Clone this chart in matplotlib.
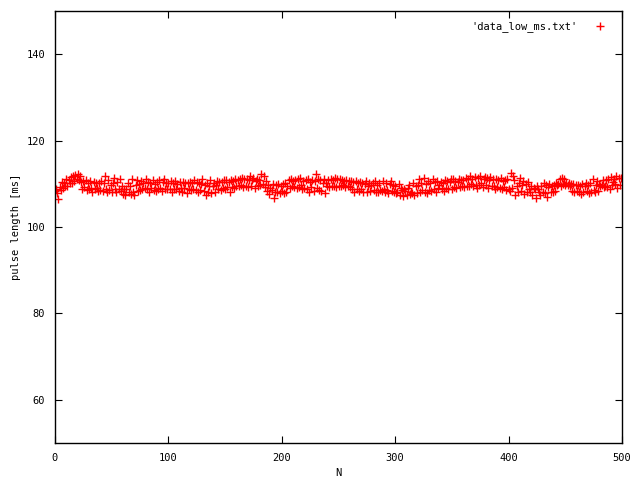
import matplotlib
matplotlib.use("Agg")
import matplotlib.pyplot as plt
import numpy as np

# pulse lengths, 20 samples per row
pulse_ms = [
    108.3, 108.9, 107.9, 106.4, 109.3, 108.6, 110.4, 109.1, 110.2, 109.4, 111.0, 109.5, 110.9, 110.2, 111.6, 110.3, 111.9, 110.7, 112.1, 111.0,
    112.3, 110.8, 111.9, 110.4, 108.9, 110.6, 109.2, 110.8, 108.5, 110.3, 108.9, 110.7, 109.0, 108.2, 110.5, 108.7, 110.2, 109.1, 108.4, 110.1,
    108.6, 110.6, 108.4, 110.1, 111.9, 108.9, 108.1, 110.9, 108.5, 109.8, 108.2, 110.1, 111.3, 108.7, 108.0, 110.4, 108.9, 111.0, 108.3, 109.6,
    107.6, 108.9, 107.4, 108.7, 110.1, 108.0, 109.5, 107.6, 111.1, 108.0, 107.5, 109.7, 110.9, 108.4, 109.9, 108.6, 110.7, 108.9, 110.3, 109.1,
    111.0, 108.8, 110.5, 108.2, 110.3, 109.0, 110.8, 108.6, 109.9, 108.3, 110.4, 108.7, 110.9, 109.0, 108.3, 110.4, 111.0, 108.7, 110.2, 108.9,
    110.3, 108.8, 110.6, 108.0, 110.1, 108.9, 110.6, 108.7, 109.9, 108.4, 110.5, 109.0, 108.1, 110.4, 109.1, 110.2, 107.9, 110.3, 108.8, 110.5,
    108.6, 110.1, 108.7, 110.8, 108.5, 110.5, 108.0, 110.2, 108.6, 110.0, 111.1, 108.3, 109.7, 107.4, 110.1, 108.2, 109.6, 110.8, 107.9, 109.5,
    110.3, 108.1, 109.8, 110.7, 108.9, 110.4, 108.6, 110.5, 109.1, 110.9, 108.7, 110.8, 109.2, 110.5, 108.2, 110.9, 109.3, 110.6, 109.0, 111.1,
    109.4, 110.9, 109.6, 111.2, 109.8, 111.4, 109.3, 111.0, 109.5, 111.1, 109.2, 110.9, 111.7, 109.4, 110.9, 111.3, 109.0, 110.6, 111.0, 109.5,
    110.8, 109.7, 112.3, 110.0, 111.9, 109.3, 110.6, 108.4, 109.8, 107.7, 109.1, 108.5, 110.0, 106.8, 108.0, 109.7, 108.2, 110.0, 107.9, 109.6,
    108.3, 109.9, 107.8, 110.2, 108.1, 109.5, 110.8, 109.0, 111.2, 109.4, 110.7, 109.3, 110.9, 109.0, 111.0, 109.2, 111.3, 109.8, 108.7, 110.6,
    109.1, 110.9, 108.7, 111.2, 108.1, 110.4, 109.3, 110.8, 108.3, 110.6, 112.2, 109.0, 111.1, 108.5, 110.8, 108.4, 110.2, 111.0, 107.9, 110.3,
    109.6, 110.8, 109.2, 111.2, 109.5, 110.9, 109.4, 111.3, 109.3, 111.0, 109.6, 111.2, 109.5, 110.9, 109.8, 110.7, 109.2, 110.8, 109.4, 110.6,
    109.2, 110.6, 108.9, 110.4, 108.2, 110.7, 108.8, 110.1, 108.4, 110.5, 108.7, 110.2, 108.2, 109.9, 110.6, 108.0, 109.5, 110.1, 108.3, 109.8,
    110.1, 108.5, 110.7, 108.2, 109.7, 108.0, 110.3, 108.6, 108.4, 110.7, 108.9, 108.1, 110.2, 108.5, 107.9, 110.0, 110.6, 108.3, 109.8, 108.0,
    109.5, 107.8, 108.2, 109.9, 107.5, 109.1, 108.6, 107.2, 108.8, 108.3, 107.4, 109.1, 109.7, 107.6, 108.2, 107.9, 110.1, 107.5, 109.4, 107.9,
    109.8, 111.0, 108.2, 110.3, 108.6, 111.4, 108.1, 109.9, 107.8, 110.7, 108.5, 110.2, 108.3, 111.1, 108.8, 110.4, 108.0, 110.6, 109.1, 109.7,
    110.5, 108.9, 110.3, 108.4, 110.8, 109.1, 110.6, 108.7, 110.4, 111.0, 108.8, 111.2, 109.2, 110.7, 109.0, 110.5, 111.1, 109.3, 110.9, 109.4,
    110.8, 109.2, 111.3, 109.6, 111.0, 109.4, 111.7, 109.9, 111.2, 109.5, 111.5, 109.8, 109.1, 111.4, 109.7, 111.9, 110.1, 109.3, 111.0, 111.6,
    109.7, 111.3, 109.1, 110.9, 111.6, 109.4, 111.0, 109.5, 108.8, 111.2, 109.3, 110.8, 109.0, 111.4, 108.7, 110.6, 109.2, 110.9, 108.5, 111.1,
    108.9, 108.4, 112.4, 109.1, 111.9, 110.8, 107.3, 109.6, 108.1, 110.3, 111.4, 108.3, 109.8, 110.6, 107.7, 110.0, 108.2, 110.4, 108.7, 108.0,
    109.5, 107.3, 109.1, 108.8, 106.7, 109.4, 108.9, 108.0, 107.4, 109.6, 108.2, 110.1, 107.8, 109.7, 107.0, 109.3, 110.0, 108.0, 109.5, 108.1,
    109.8, 108.3, 110.2, 109.7, 110.0, 111.1, 109.6, 111.4, 109.9, 111.2, 109.7, 110.3, 109.8, 110.1, 109.5, 109.9, 108.4, 110.0, 108.2, 109.7,
    108.3, 109.8, 108.0, 109.5, 107.7, 109.9, 108.1, 109.6, 110.2, 108.4, 109.7, 107.9, 110.1, 108.2, 111.0, 108.5, 108.0, 109.8, 110.7, 108.3,
    110.0, 109.5, 109.7, 110.9, 109.2, 109.6, 110.8, 109.3, 111.1, 108.9, 111.5, 109.7, 110.4, 111.2, 109.9, 111.7, 109.1, 111.3, 109.8, 111.4,
]
n = np.arange(len(pulse_ms))

x_ticks = [0, 100, 200, 300, 400, 500]
y_ticks = [60, 80, 100, 120, 140]

plt.rcParams['font.family'] = 'DejaVu Sans Mono'
plt.rcParams['font.size'] = 7.5

fig = plt.figure(figsize=(6.4, 4.8), dpi=100)
ax = fig.add_axes([55/640, 1 - 443/480, 567/640, 432/480])

ax.plot(n, pulse_ms, linestyle='none', marker='+', color='red',
        markersize=5.5, markeredgewidth=1.0, label="'data_low_ms.txt'")

ax.set_xlim(0, 500)
ax.set_ylim(50, 150)
ax.set_xticks(x_ticks)
ax.set_yticks(y_ticks)
ax.tick_params(direction='in', length=5, width=0.8, top=True, right=True, pad=7)
for s in ax.spines.values():
    s.set_linewidth(1.0)

ax.set_xlabel('N', labelpad=4)
ax.set_ylabel('pulse length [ms]', labelpad=4)

ax.legend(loc='upper right', frameon=False, markerfirst=False,
          handlelength=1.2, handletextpad=1.5, borderaxespad=0.6,
          bbox_to_anchor=(0.99, 1.0))

plt.savefig('out.png', dpi=100)
